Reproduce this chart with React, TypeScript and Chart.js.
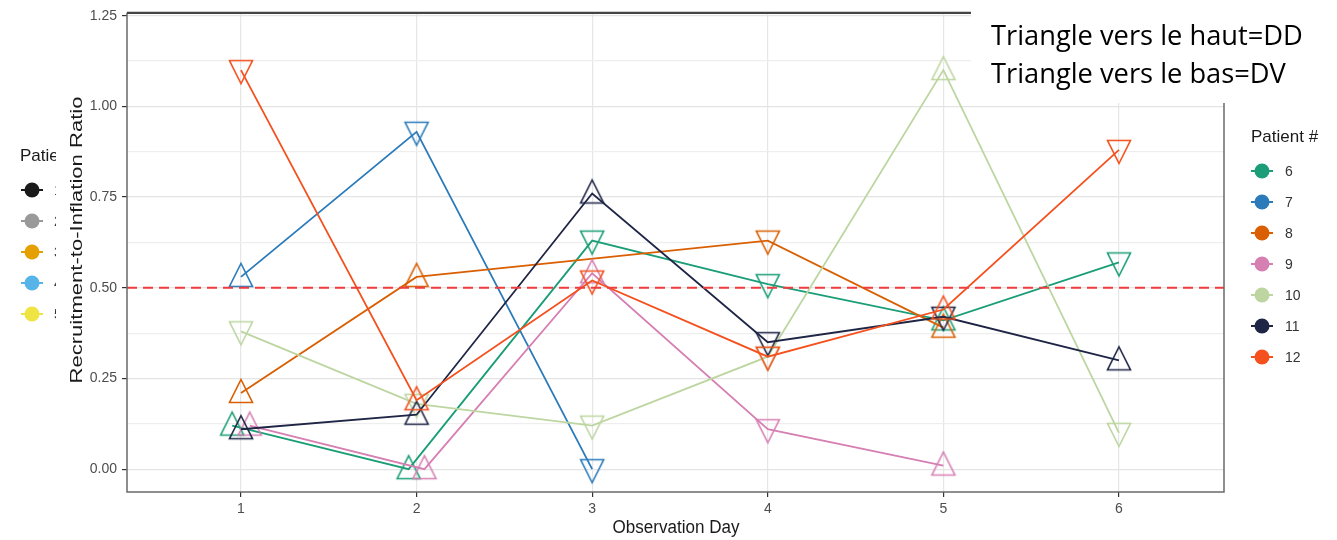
import React, { useEffect, useRef } from "react";
import { Chart, registerables } from "chart.js";
Chart.register(...registerables);

// ---------- data ----------
const days = [1, 2, 3, 4, 5, 6];
const patientIds = ["6", "7", "8", "9", "10", "11", "12"];
const patientColors = ["#1b9e77", "#2b7bba", "#d95f02", "#d67fb3", "#bdd6a1", "#1f2545", "#f4511e"];

const p6 = [0.12, 0.0, 0.63, 0.51, 0.41, 0.57];
const p7 = [0.53, 0.93, 0.0, null, null, null];
const p8 = [0.21, 0.53, null, 0.63, 0.39, null];
const p9 = [0.12, 0.0, 0.54, 0.11, 0.01, null];
const p10 = [0.38, 0.18, 0.12, 0.31, 1.1, 0.1];
const p11 = [0.11, 0.15, 0.76, 0.35, 0.42, 0.3];
const p12 = [1.1, 0.19, 0.52, 0.31, 0.44, 0.88];

// U = triangle vers le haut (DD), D = triangle vers le bas (DV)
const s6 = ["U", "U", "D", "D", "U", "D"];
const s7 = ["U", "D", "D", "", "", ""];
const s8 = ["U", "U", "", "D", "U", ""];
const s9 = ["U", "U", "U", "D", "U", ""];
const s10 = ["D", "D", "D", "D", "U", "D"];
const s11 = ["U", "U", "U", "D", "D", "U"];
const s12 = ["D", "U", "D", "D", "U", "D"];

// small horizontal jitter of overlapping points (in days)
const j6 = [-0.05, -0.045, 0, 0, 0, 0];
const j9 = [0.05, 0.045, 0, 0, 0, 0];
const j0 = [0, 0, 0, 0, 0, 0];

const values = [p6, p7, p8, p9, p10, p11, p12];
const shapes = [s6, s7, s8, s9, s10, s11, s12];
const jitters = [j6, j0, j0, j9, j0, j0, j0];

const thresholdValue = 0.5;
const yTickValues = [0, 0.125, 0.25, 0.375, 0.5, 0.625, 0.75, 0.875, 1, 1.125, 1.25];
const leftLegendLabels = ["1", "2", "3", "4", "5"];
const leftLegendColors = ["#1a1a1a", "#999999", "#e69f00", "#56b4e9", "#f0e442"];
const noteLines = ["Triangle vers le haut=DD", "Triangle vers le bas=DV"];
const legendTitle = "Patient #";
const xTitle = "Observation Day";
const yTitle = "Recruitment-to-Inflation Ratio";

const FONT = '"Liberation Sans", Arial, sans-serif';

function makeTri(color: string, up: boolean) {
  const c = document.createElement("canvas");
  c.width = 28;
  c.height = 32;
  const g = c.getContext("2d")!;
  const cx = 14, cy = 16, top = 13.5, bot = 9.5, half = 11.5;
  g.strokeStyle = color;
  g.lineWidth = 1.6;
  g.beginPath();
  if (up) {
    g.moveTo(cx, cy - top);
    g.lineTo(cx + half, cy + bot);
    g.lineTo(cx - half, cy + bot);
  } else {
    g.moveTo(cx, cy + top);
    g.lineTo(cx + half, cy - bot);
    g.lineTo(cx - half, cy - bot);
  }
  g.closePath();
  g.stroke();
  return c;
}

function drawStretchedText(ctx: CanvasRenderingContext2D, text: string, x: number, y: number, size: number, targetW: number, rot: number, color: string) {
  ctx.save();
  ctx.font = `${size}px ${FONT}`;
  const w = ctx.measureText(text).width;
  ctx.translate(x, y);
  ctx.rotate(rot);
  ctx.scale(targetW / w, 1);
  ctx.fillStyle = color;
  ctx.textAlign = "center";
  ctx.textBaseline = "middle";
  ctx.fillText(text, 0, 0);
  ctx.restore();
}

const overlayPlugin = {
  id: "overlay",
  afterDatasetsDraw(chart: any) {
    const { ctx, chartArea: a, scales } = chart;
    const yy = scales.y.getPixelForValue(thresholdValue);
    ctx.save();
    ctx.strokeStyle = "#f03c3c";
    ctx.lineWidth = 2;
    ctx.setLineDash([10, 6]);
    ctx.beginPath();
    ctx.moveTo(a.left, yy);
    ctx.lineTo(a.right, yy);
    ctx.stroke();
    ctx.restore();
  },
  afterDraw(chart: any) {
    const { ctx, chartArea: a } = chart;
    ctx.save();
    // panel border
    ctx.strokeStyle = "#6a6a6a";
    ctx.lineWidth = 1.5;
    ctx.beginPath();
    ctx.moveTo(a.left, a.top);
    ctx.lineTo(a.left, a.bottom);
    ctx.lineTo(a.right, a.bottom);
    ctx.lineTo(a.right, a.top);
    ctx.stroke();
    ctx.strokeStyle = "#444";
    ctx.lineWidth = 2.2;
    ctx.beginPath();
    ctx.moveTo(a.left, a.top);
    ctx.lineTo(a.right, a.top);
    ctx.stroke();

    // white note box
    ctx.fillStyle = "#ffffff";
    ctx.fillRect(971, 0, 1337 - 971, 103);
    ctx.font = `24px "Open Sans", sans-serif`;
    const w0 = ctx.measureText(noteLines[0]).width;
    const fs = (24 * 312) / w0;
    ctx.font = `${fs}px "Open Sans", sans-serif`;
    ctx.fillStyle = "#000";
    ctx.textAlign = "left";
    ctx.textBaseline = "alphabetic";
    ctx.fillText(noteLines[0], 991, 45);
    ctx.fillText(noteLines[1], 991, 83);

    // axis titles
    drawStretchedText(ctx, xTitle, 676, 528, 18, 127, 0, "#1a1a1a");
    drawStretchedText(ctx, yTitle, 77, 240, 16.5, 287, -Math.PI / 2, "#1a1a1a");

    // right legend
    ctx.fillStyle = "#1a1a1a";
    ctx.font = `17px ${FONT}`;
    ctx.textAlign = "left";
    ctx.textBaseline = "middle";
    ctx.fillText(legendTitle, 1251, 137);
    patientIds.forEach((id, i) => {
      const cy = 171 + i * 31;
      const col = patientColors[i];
      ctx.strokeStyle = col;
      ctx.lineWidth = 2;
      ctx.beginPath();
      ctx.moveTo(1251, cy);
      ctx.lineTo(1273, cy);
      ctx.stroke();
      ctx.fillStyle = col;
      ctx.beginPath();
      ctx.arc(1262, cy, 7.5, 0, Math.PI * 2);
      ctx.fill();
      ctx.fillStyle = "#333";
      ctx.font = `14px ${FONT}`;
      ctx.fillText(id, 1285, cy + 1);
    });

    // left legend (cut off)
    ctx.save();
    ctx.beginPath();
    ctx.rect(0, 0, 56, 540);
    ctx.clip();
    ctx.fillStyle = "#1a1a1a";
    ctx.font = `17px ${FONT}`;
    ctx.textAlign = "left";
    ctx.textBaseline = "middle";
    ctx.fillText(legendTitle, 20, 156);
    leftLegendLabels.forEach((lab, i) => {
      const cy = 190 + i * 31;
      const col = leftLegendColors[i];
      ctx.strokeStyle = col;
      ctx.lineWidth = 2;
      ctx.beginPath();
      ctx.moveTo(21, cy);
      ctx.lineTo(43, cy);
      ctx.stroke();
      ctx.fillStyle = col;
      ctx.beginPath();
      ctx.arc(32, cy, 7.5, 0, Math.PI * 2);
      ctx.fill();
      ctx.fillStyle = "#333";
      ctx.font = `14px ${FONT}`;
      ctx.fillText(lab, 54, cy + 1);
    });
    ctx.restore();
    ctx.restore();
  },
};

export default function App() {
  const ref = useRef<HTMLCanvasElement>(null);
  useEffect(() => {
    const datasets = values.map((arr, i) => {
      const pts: any[] = [];
      const styles: any[] = [];
      const col = patientColors[i];
      const up = makeTri(col, true);
      const down = makeTri(col, false);
      arr.forEach((v, k) => {
        if (v === null) return;
        pts.push({ x: days[k] + jitters[i][k], y: v });
        styles.push(shapes[i][k] === "U" ? up : down);
      });
      return {
        label: patientIds[i],
        data: pts,
        borderColor: col,
        backgroundColor: "transparent",
        borderWidth: 1.8,
        pointStyle: styles,
        pointRadius: 11,
        pointBorderColor: col,
        pointBackgroundColor: "transparent",
        tension: 0,
        order: 12 - i,
      };
    });
    const chart = new Chart(ref.current!, {
      type: "line",
      data: { datasets },
      options: {
        animation: false,
        responsive: false,
        devicePixelRatio: 1,
        layout: { padding: { top: 9, right: 113, left: 0, bottom: 0 } },
        plugins: { legend: { display: false }, tooltip: { enabled: false } },
        scales: {
          x: {
            type: "linear",
            min: 0.351,
            max: 6.598,
            afterBuildTicks: (s: any) => {
              s.ticks = days.map((d) => ({ value: d }));
            },
            afterFit: (s: any) => {
              s.height = 48;
              s.paddingLeft = 0;
              s.paddingRight = 0;
            },
            border: { display: false },
            grid: { color: "#e6e6e6", lineWidth: 1.2, tickColor: "#333", tickLength: 5 },
            ticks: {
              color: "#4d4d4d",
              font: { family: FONT, size: 14 },
              padding: 4,
              callback: (v: any) => String(v),
            },
          },
          y: {
            type: "linear",
            min: -0.063,
            max: 1.258,
            afterBuildTicks: (s: any) => {
              s.ticks = yTickValues.map((d) => ({ value: d }));
            },
            afterFit: (s: any) => {
              s.width = 127;
              s.paddingTop = 0;
              s.paddingBottom = 0;
            },
            border: { display: false },
            grid: {
              color: (c: any) => (c.tick && Math.abs((c.tick.value * 4) % 1) < 1e-6 ? "#e4e4e4" : "#eeeeee"),
              lineWidth: 1.2,
              tickColor: (c: any) => (c.tick && Math.abs((c.tick.value * 4) % 1) < 1e-6 ? "#333" : "transparent"),
              tickLength: 5,
            },
            ticks: {
              color: "#4d4d4d",
              font: { family: FONT, size: 14, lineHeight: 0.5 },
              padding: 5,
              autoSkip: false,
              callback: (v: any) => (Math.abs((v * 4) % 1) < 1e-6 ? Number(v).toFixed(2) : ""),
            },
          },
        },
      },
      plugins: [overlayPlugin],
    } as any);
    return () => chart.destroy();
  }, []);
  return (
    <div style={{ position: "fixed", left: 0, top: 0, width: 1337, height: 540, background: "#fff" }}>
      <canvas ref={ref} width={1337} height={540} style={{ width: 1337, height: 540, display: "block" }} />
    </div>
  );
}
